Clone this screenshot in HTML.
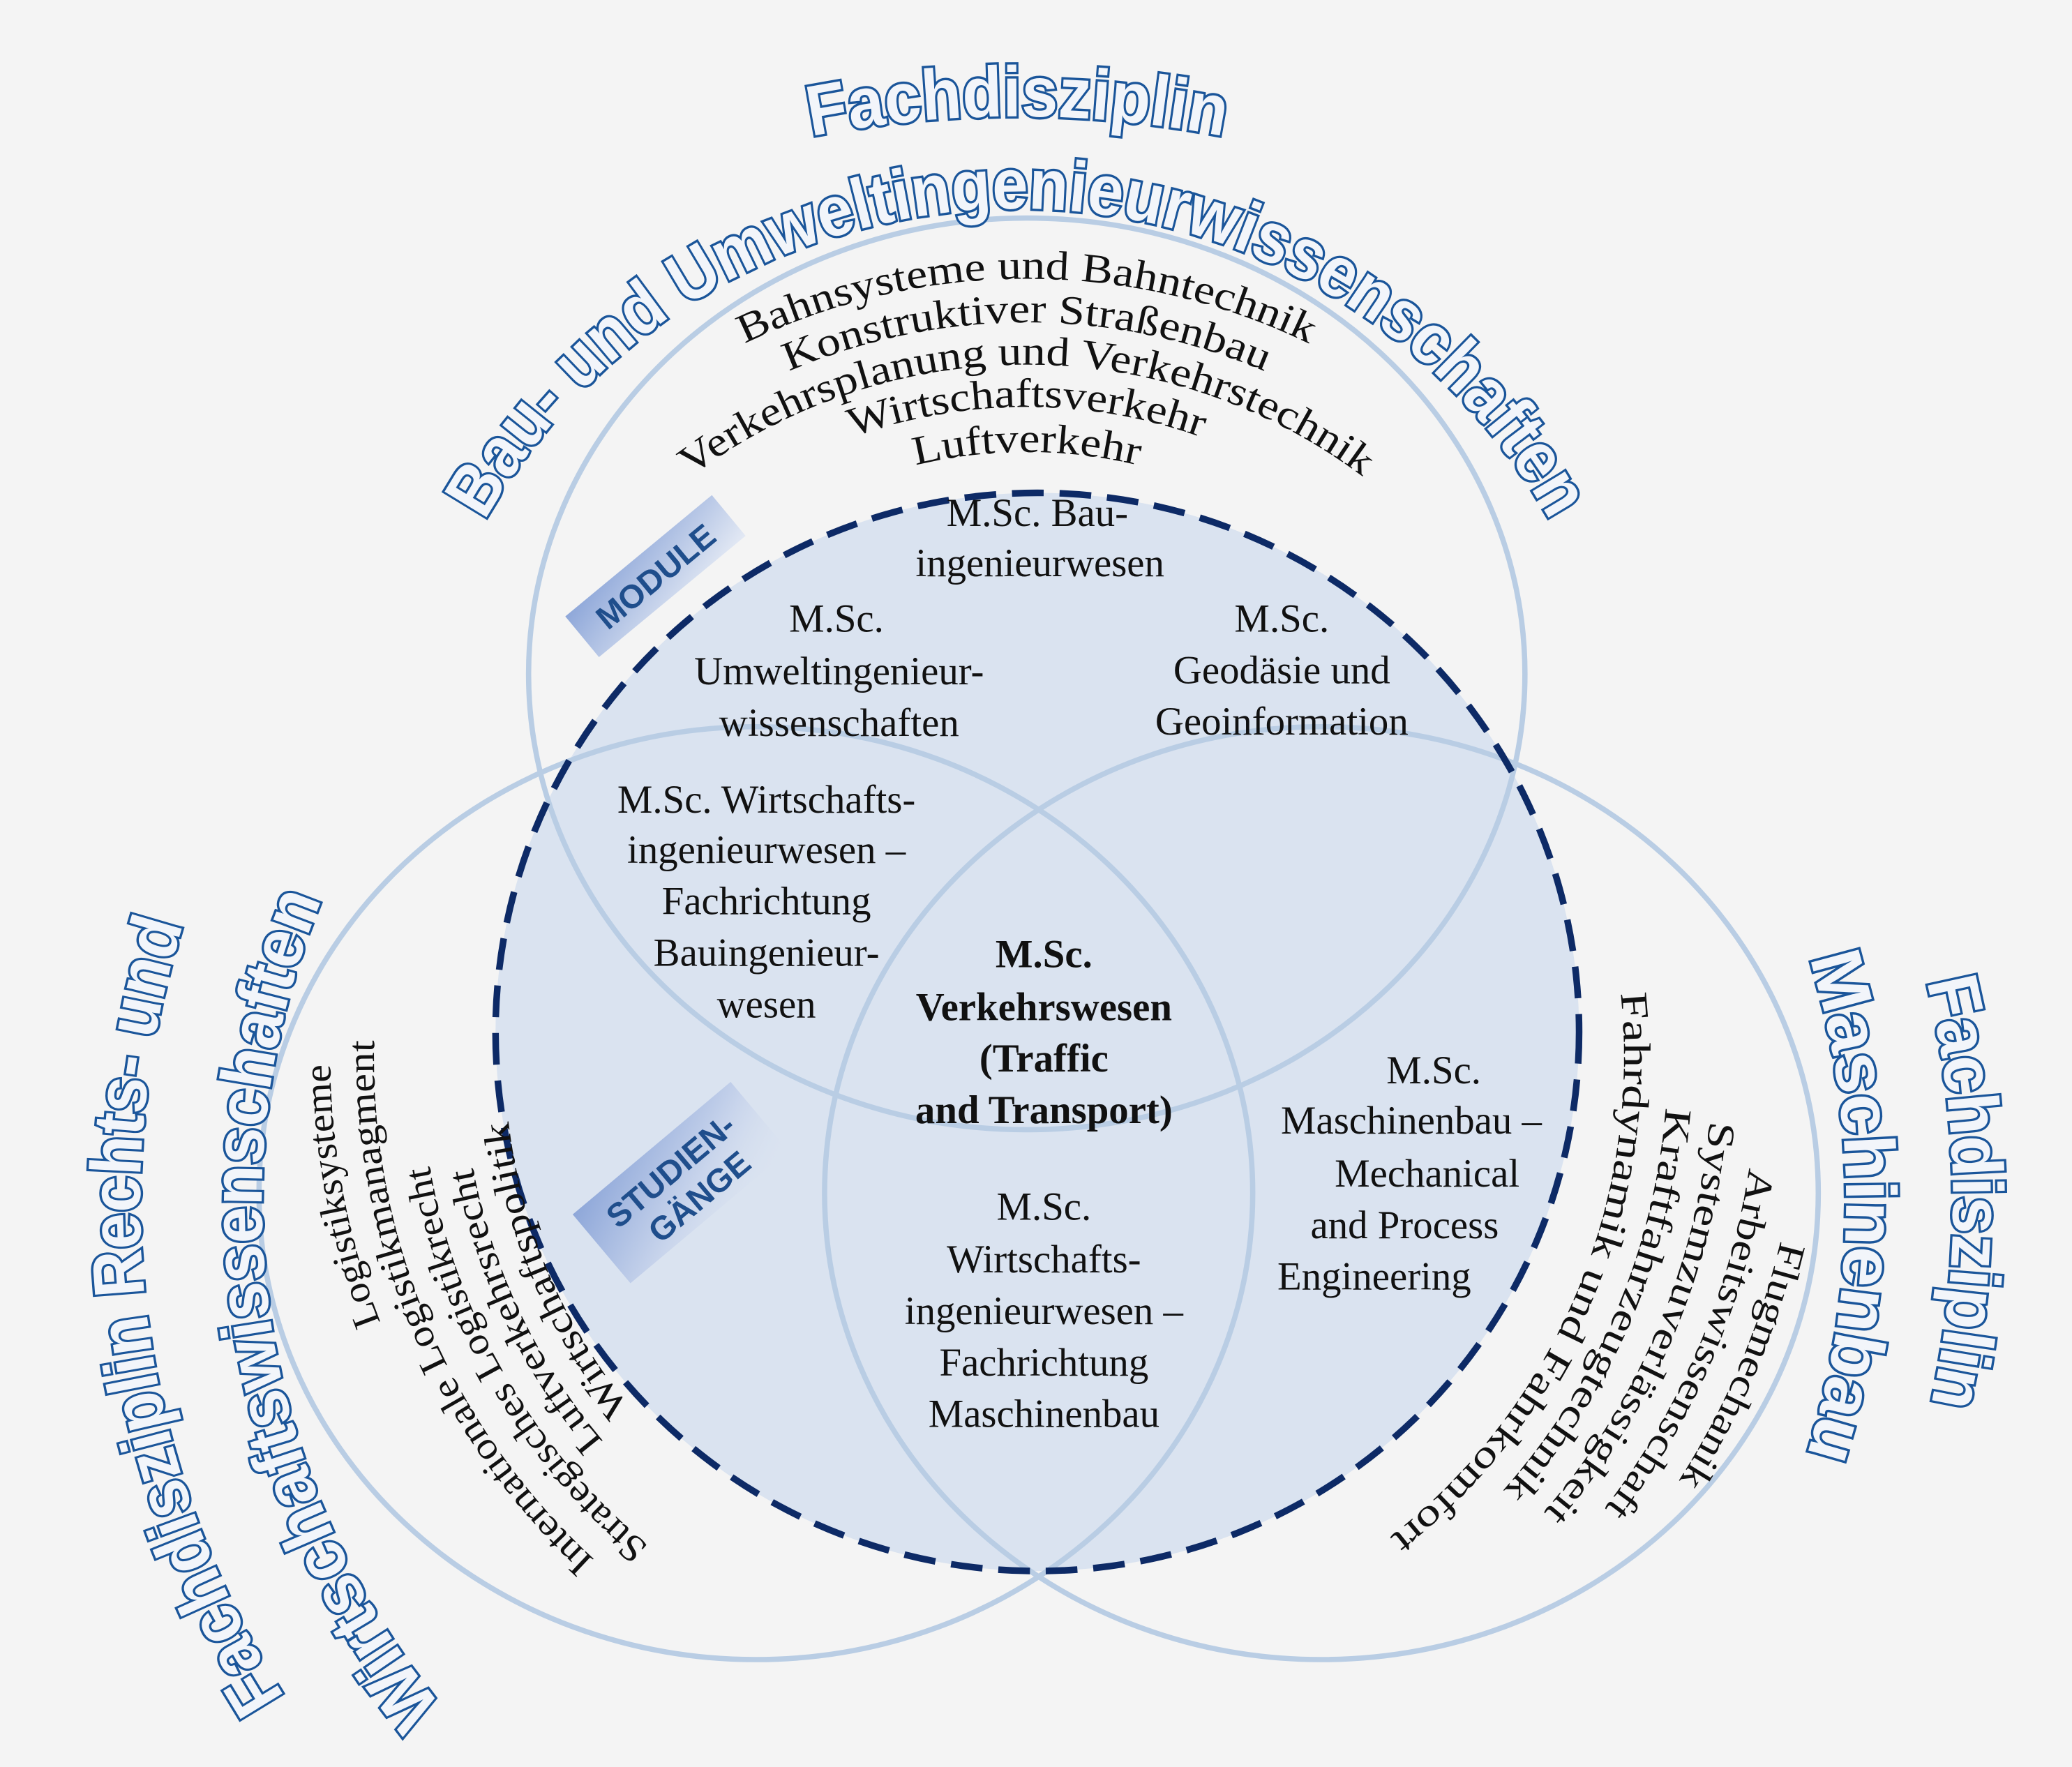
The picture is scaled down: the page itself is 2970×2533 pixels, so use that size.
<!DOCTYPE html>
<html><head><meta charset="utf-8">
<style>
html,body{margin:0;padding:0;background:#f4f4f4;}
svg{display:block;}
.t{font-family:"Liberation Serif",serif;fill:#111;}
.ti{font-family:"Liberation Sans",sans-serif;font-weight:bold;fill:#f2f5fa;stroke:#1a559a;stroke-width:3.6;paint-order:stroke;}
</style></head>
<body>
<svg width="2970" height="2533" viewBox="0 0 1568 1337.3" xmlns="http://www.w3.org/2000/svg">
<defs>
<linearGradient id="gm" x1="0" y1="0" x2="1" y2="1">
<stop offset="0" stop-color="#8ea7d9"/><stop offset="1" stop-color="#e3e9f4"/>
</linearGradient>
<linearGradient id="gs" x1="0" y1="0" x2="1" y2="1">
<stop offset="0" stop-color="#8ea7d9"/><stop offset="0.6" stop-color="#c9d5ec"/><stop offset="1" stop-color="#dbe3f0" stop-opacity="0"/>
</linearGradient>
<path id="a1" d="M353.5 455.5 A489 489 0 0 1 1200.5 455.5"/>
<path id="a2" d="M382.1 472 A456 456 0 0 1 1171.9 472"/>
<path id="a3" d="M409.8 488 A424 424 0 0 1 1144.2 488"/>
<path id="a4" d="M437.5 504 A392 392 0 0 1 1116.5 504"/>
<path id="a5" d="M467 521 A358 358 0 0 1 1087 521"/>
<path id="tt1" d="M323.7 500.4 A462 462 0 0 1 1216.3 500.4"/>
<path id="tt0" d="M364 196.8 A812 812 0 0 1 1176 196.8"/>
<path id="rf" d="M1116.5 291.4 A710 710 0 0 1 1129.4 1521.1"/>
<path id="rm" d="M1085.4 366.9 A629 629 0 0 1 1079.7 1456.3"/>
<path id="lf" d="M534.4 1551.2 A694 694 0 0 1 377.5 359.4"/>
<path id="lw" d="M579.4 1470.1 A602 602 0 0 1 425.3 438.9"/>
<path id="r1" d="M1244 441.3 A596 596 0 0 1 840.7 1391.5"/>
<path id="r2" d="M1216.8 461.8 A562 562 0 0 1 836.5 1357.8"/>
<path id="r3" d="M1189.7 482.2 A528 528 0 0 1 832.4 1324"/>
<path id="r4" d="M1162.5 502.7 A494 494 0 0 1 828.2 1290.3"/>
<path id="r5" d="M1136.2 522.6 A461 461 0 0 1 824.2 1257.5"/>
<path id="l1" d="M620.9 1320 A550 550 0 0 1 439.1 384.9"/>
<path id="l2" d="M737 1313.1 A517 517 0 0 1 387.1 488.9"/>
<path id="l3" d="M800 1282 A482 482 0 0 1 382.6 559"/>
<path id="l4" d="M764.7 1248.6 A450 450 0 0 1 429.2 545.1"/>
<path id="l5" d="M749 1214.9 A418 418 0 0 1 466.2 548.4"/>
</defs>

<rect x="0" y="0" width="1568" height="1337.3" fill="#f4f4f4"/>
<ellipse cx="785" cy="781" rx="410" ry="408" fill="#dae3f0"/>
<g fill="none" stroke="#b9cde4" stroke-width="4">
<ellipse cx="777" cy="510" rx="377" ry="345"/>
<ellipse cx="572" cy="903" rx="376" ry="353"/>
<ellipse cx="1000" cy="903" rx="376" ry="353"/>
</g>
<ellipse cx="785" cy="781" rx="410" ry="408" fill="none" stroke="#0d2a66" stroke-width="5" stroke-dasharray="24 12"/>

<g transform="translate(496,436) rotate(-39.6)">
<rect x="-72" y="-20" width="144" height="40" fill="url(#gm)"/>
<text x="0" y="9" text-anchor="middle" font-family="Liberation Sans, sans-serif" font-weight="bold" font-size="25" fill="#1f4e8c">MODULE</text>
</g>
<g transform="translate(515,895) rotate(-40)">
<rect x="-78" y="-34" width="156" height="68" fill="url(#gs)"/>
<text x="0" y="-3" text-anchor="middle" font-family="Liberation Sans, sans-serif" font-weight="bold" font-size="25" fill="#1f4e8c">STUDIEN-</text>
<text x="4" y="26" text-anchor="middle" font-family="Liberation Sans, sans-serif" font-weight="bold" font-size="25" fill="#1f4e8c">GÄNGE</text>
</g>

<g class="t" font-size="31" text-anchor="middle">
<text><textPath href="#a1" startOffset="50%" textLength="442" lengthAdjust="spacingAndGlyphs">Bahnsysteme und Bahntechnik</textPath></text>
<text><textPath href="#a2" startOffset="50%" textLength="370" lengthAdjust="spacingAndGlyphs">Konstruktiver Straßenbau</textPath></text>
<text><textPath href="#a3" startOffset="50%" textLength="545" lengthAdjust="spacingAndGlyphs">Verkehrsplanung und Verkehrstechnik</textPath></text>
<text><textPath href="#a4" startOffset="50%" textLength="269" lengthAdjust="spacingAndGlyphs">Wirtschaftsverkehr</textPath></text>
<text><textPath href="#a5" startOffset="50%" textLength="170" lengthAdjust="spacingAndGlyphs">Luftverkehr</textPath></text>
</g>

<g class="t" font-size="29" text-anchor="middle">
<text><textPath href="#r1" startOffset="50%" textLength="198" lengthAdjust="spacingAndGlyphs">Flugmechanik</textPath></text>
<text><textPath href="#r2" startOffset="50%" textLength="283" lengthAdjust="spacingAndGlyphs">Arbeitswissenschaft</textPath></text>
<text><textPath href="#r3" startOffset="50%" textLength="327" lengthAdjust="spacingAndGlyphs">Systemzuverlässigkeit</textPath></text>
<text><textPath href="#r4" startOffset="50%" textLength="320" lengthAdjust="spacingAndGlyphs">Kraftfahrzeugtechnik</textPath></text>
<text><textPath href="#r5" startOffset="50%" textLength="467" lengthAdjust="spacingAndGlyphs">Fahrdynamik und Fahrkomfort</textPath></text>
</g>

<g class="t" font-size="29" text-anchor="middle">
<text><textPath href="#l1" startOffset="50%" textLength="200" lengthAdjust="spacingAndGlyphs">Logistiksysteme</textPath></text>
<text><textPath href="#l2" startOffset="50%" textLength="440" lengthAdjust="spacingAndGlyphs">Internationale Logistikmanagment</textPath></text>
<text><textPath href="#l3" startOffset="50%" textLength="339" lengthAdjust="spacingAndGlyphs">Strategisches Logistikrecht</textPath></text>
<text><textPath href="#l4" startOffset="50%" textLength="232" lengthAdjust="spacingAndGlyphs">Luftverkehrsrecht</textPath></text>
<text><textPath href="#l5" startOffset="50%" textLength="238" lengthAdjust="spacingAndGlyphs">Wirtschaftspolitik</textPath></text>
</g>

<g class="ti" font-size="54" text-anchor="middle">
<text><textPath href="#tt0" startOffset="50%" textLength="314" lengthAdjust="spacingAndGlyphs">Fachdisziplin</textPath></text>
<text><textPath href="#tt1" startOffset="50%" textLength="980" lengthAdjust="spacingAndGlyphs">Bau- und Umweltingenieurwissenschaften</textPath></text>
<text><textPath href="#rf" startOffset="50%" textLength="323" lengthAdjust="spacingAndGlyphs">Fachdisziplin</textPath></text>
<text><textPath href="#rm" startOffset="50%" textLength="382" lengthAdjust="spacingAndGlyphs">Maschinenbau</textPath></text>
<text><textPath href="#lf" startOffset="50%" textLength="609" lengthAdjust="spacingAndGlyphs">Fachdisziplin Rechts- und</textPath></text>
<text><textPath href="#lw" startOffset="50%" textLength="649" lengthAdjust="spacingAndGlyphs">Wirtschaftswissenschaften</textPath></text>
</g>

<g class="t" font-size="30" text-anchor="middle">
<text x="785" y="398">M.Sc. Bau-</text>
<text x="787" y="436">ingenieurwesen</text>
<text x="633" y="478">M.Sc.</text>
<text x="635" y="518">Umweltingenieur-</text>
<text x="635" y="557">wissenschaften</text>
<text x="970" y="478">M.Sc.</text>
<text x="970" y="517">Geodäsie und</text>
<text x="970" y="556">Geoinformation</text>
<text x="580" y="615">M.Sc. Wirtschafts-</text>
<text x="580" y="653">ingenieurwesen –</text>
<text x="580" y="692">Fachrichtung</text>
<text x="580" y="731">Bauingenieur-</text>
<text x="580" y="770">wesen</text>
<text x="1085" y="820">M.Sc.</text>
<text x="1068" y="858">Maschinenbau –</text>
<text x="1080" y="898">Mechanical</text>
<text x="1063" y="937">and Process</text>
<text x="1040" y="976">Engineering</text>
<text x="790" y="923">M.Sc.</text>
<text x="790" y="963">Wirtschafts-</text>
<text x="790" y="1002">ingenieurwesen –</text>
<text x="790" y="1041">Fachrichtung</text>
<text x="790" y="1080">Maschinenbau</text>
</g>
<g class="t" font-size="30" font-weight="bold" text-anchor="middle">
<text x="790" y="732">M.Sc.</text>
<text x="790" y="772">Verkehrswesen</text>
<text x="790" y="811">(Traffic</text>
<text x="790" y="850">and Transport)</text>
</g>
</svg>
</body></html>
